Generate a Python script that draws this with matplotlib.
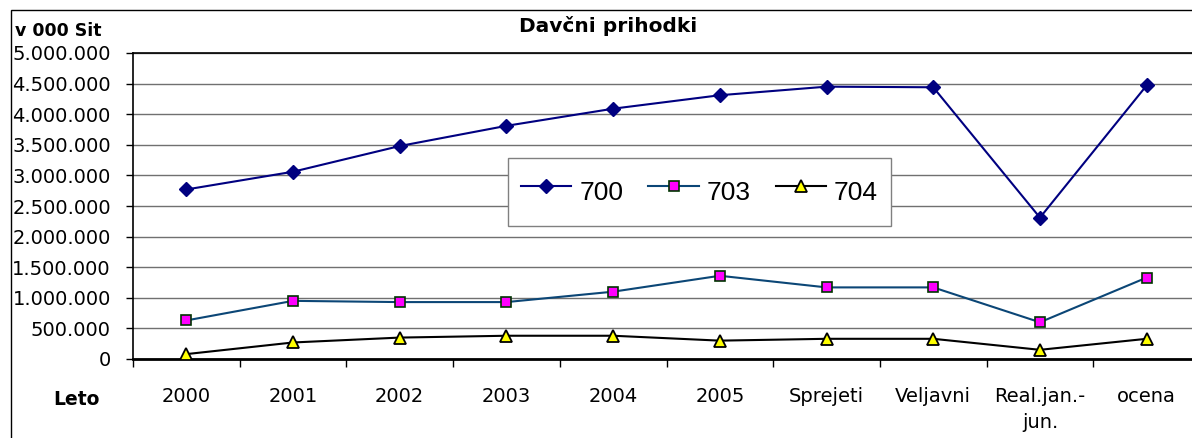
import matplotlib.pyplot as plt
from matplotlib.patches import Rectangle
from matplotlib.ticker import FuncFormatter

# podatki (v 000 Sit)
kategorije = ["2000", "2001", "2002", "2003", "2004", "2005",
              "Sprejeti", "Veljavni", "Real.jan.-\njun.", "ocena"]
k700 = [2770000, 3060000, 3480000, 3810000, 4090000, 4310000, 4450000, 4440000, 2310000, 4470000]
k703 = [630000, 950000, 930000, 930000, 1100000, 1360000, 1170000, 1170000, 600000, 1330000]
k704 = [80000, 270000, 350000, 380000, 380000, 300000, 330000, 330000, 150000, 330000]

W, H = 1192, 438
fig = plt.figure(figsize=(W / 100, H / 100), dpi=100)
ax = fig.add_axes([133 / W, 1 - 359 / H, 1067 / W, 306 / H])

x = list(range(len(kategorije)))

ax.plot(x, k700, color="#000080", lw=1.5, marker="D", ms=7.5,
        mfc="#000080", mec="#000080", label="700", zorder=3)
ax.plot(x, k703, color="#0b4676", lw=1.5, marker="s", ms=6.5,
        mfc="#ff00ff", mec="#003300", mew=1.2, label="703", zorder=3)
ax.plot(x, k704, color="black", lw=1.5, marker="^", ms=8.5,
        mfc="#ffff00", mec="black", mew=1.3, label="704", zorder=3)

# osi
ax.set_xlim(-0.5, 9.5)
ax.set_ylim(0, 5000000)
ax.set_yticks(range(0, 5000001, 500000))
ax.yaxis.set_major_formatter(FuncFormatter(lambda v, p: f"{v:,.0f}".replace(",", ".")))
ax.grid(axis="y", color="#707070", lw=1.0)
ax.set_axisbelow(True)

ax.set_xticks(x)
ax.set_xticklabels(kategorije, linespacing=1.45)
ax.set_xticks([i + 0.5 for i in range(-1, 10)], minor=True)
ax.tick_params(axis="x", which="major", length=0, pad=20, labelsize=14, colors="black")
ax.tick_params(axis="x", which="minor", length=6, width=1, direction="out")
ax.tick_params(axis="y", length=5, width=1, pad=11, labelsize=14, colors="black")

for s in ["left", "top"]:
    ax.spines[s].set_linewidth(1.2)
ax.spines["bottom"].set_linewidth(2)
ax.spines["right"].set_visible(False)

# besedila
fig.text(608 / W, 1 - 32 / H, "Davčni prihodki", ha="center", va="baseline",
         fontsize=14.5, fontweight="bold")
fig.text(15 / W, 1 - 36 / H, "v 000 Sit", ha="left", va="baseline",
         fontsize=12.5, fontweight="bold")
fig.text(76 / W, 1 - 405 / H, "Leto", ha="center", va="baseline",
         fontsize=13.5, fontweight="bold")

# legenda
leg = ax.legend(loc="center", bbox_to_anchor=(699.5 / W, 1 - 192 / H),
                bbox_transform=fig.transFigure, ncol=3, fancybox=False,
                framealpha=1, edgecolor="#808080",
                prop={"family": "Liberation Sans", "size": 19},
                handlelength=1.9, handletextpad=0.3, columnspacing=0.95,
                handleheight=2.1, borderpad=0.5)
leg.get_frame().set_linewidth(1.0)

# okvir grafa
fig.patches.append(Rectangle((11 / W, -0.2), 1.5, 1.2 - 10 / H, transform=fig.transFigure,
                             fill=False, edgecolor="black", lw=1.0))

fig.savefig("out.png", dpi=100)
